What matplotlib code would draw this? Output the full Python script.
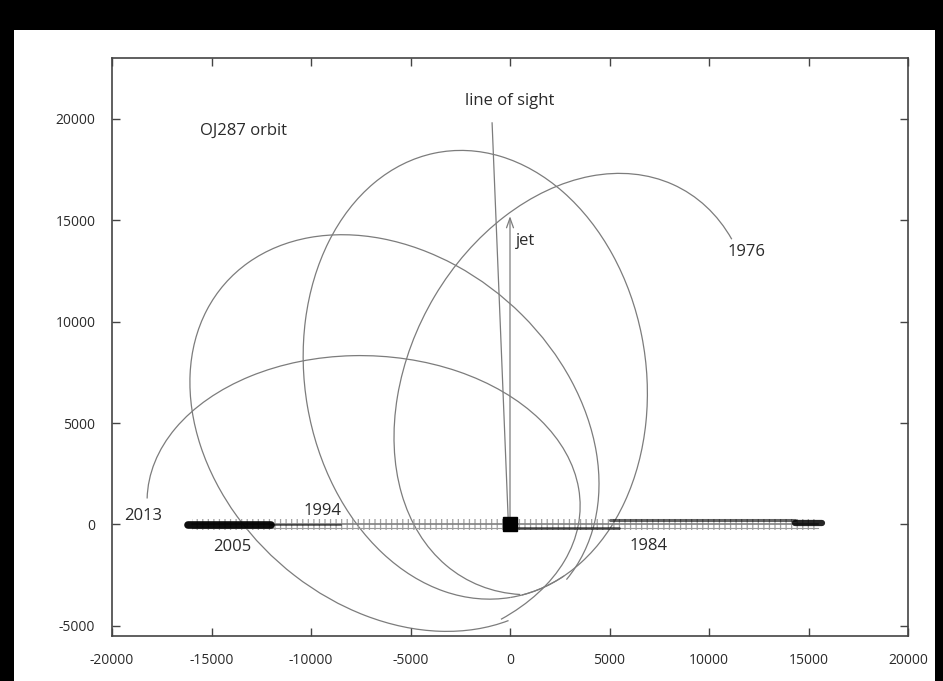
import matplotlib
matplotlib.use("Agg")
import matplotlib.pyplot as plt
from matplotlib.patches import Arc, Rectangle

# elliptical arcs of the secondary's track (data units); the second
# revolution runs slightly past a full turn, so it is split in two pieces
arc_cx = [3216, -1745, -1745, -5806, -7356]
arc_cy = [6923, 7380, 7380, 4507, 1033]
arc_w = [22087, 22241, 22241, 22530, 21763]
arc_h = [16464, 17149, 17149, 17250, 14583]
arc_angle = [-120.6, -80.8, -80.8, 140.5, 178.9]
arc_t1 = [162.6, 3.0, 0.0, 179.6, 141.5]
arc_t2 = [376.0, 360.0, 15.0, 521.3, 359.8]

# edge-on disk
disk_x = [-16000, 15500]
disk_half = 290
dark_x0 = [-16200, -12000, 300, 5000, 14300]
dark_x1 = [-12000, -8500, 5500, 14300, 15700]
dark_y = [-50, -50, -170, 200, 60]
dark_lw = [5.5, 1.4, 2.0, 2.2, 4.5]
dark_alpha = [0.95, 0.55, 0.6, 0.6, 0.85]

# line of sight and jet
los_x = [-900, -80]
los_y = [19800, 0]
jet_top = 15200

year_labels = ["1976", "1984", "1994", "2005", "2013"]
year_x = [10950, 6030, -10400, -14920, -19400]
year_y = [13410, -1080, 640, -1130, 440]

xticks = list(range(-20000, 20001, 5000))
yticks = list(range(-5000, 20001, 5000))

gray = '#7c7c7c'
ink = '#2a2a2a'

plt.rcParams['font.family'] = ['Open Sans', 'DejaVu Sans']
plt.rcParams['axes.unicode_minus'] = False
plt.rcParams['hatch.linewidth'] = 0.9
fig = plt.figure(figsize=(9.43, 6.81), dpi=100, facecolor='black')
fig.patches.append(Rectangle((14/943, 0), 921/943, 1 - 30/681, transform=fig.transFigure,
                             facecolor='white', edgecolor='none', zorder=-5))
ax = fig.add_axes([112/943, 1 - 636/681, 796/943, 578/681])
ax.set_xlim(-20000, 20000)
ax.set_ylim(-5500, 23000)

for i in range(len(arc_cx)):
    ax.add_patch(Arc((arc_cx[i], arc_cy[i]), arc_w[i], arc_h[i], angle=arc_angle[i],
                     theta1=arc_t1[i], theta2=arc_t2[i], color=gray, lw=0.9))

# disk: hatched band of point ticks, a centre line and the denser parts
ax.add_patch(Rectangle((disk_x[0], -disk_half), disk_x[1] - disk_x[0], 2 * disk_half,
                       fill=False, hatch='|||', edgecolor='#a0a0a0', lw=0))
ax.plot(disk_x, [0, 0], color='#808080', lw=1.2)
ax.plot(disk_x, [-170, -170], color='#9a9a9a', lw=0.8)
for x0, x1, y, w, a in zip(dark_x0, dark_x1, dark_y, dark_lw, dark_alpha):
    ax.plot([x0, x1], [y, y], color='black', lw=w, alpha=a, solid_capstyle='round')
ax.plot([0], [0], marker='s', ms=10, color='black', zorder=5)

ax.plot(los_x, los_y, color=gray, lw=0.9)
ax.annotate('', xy=(0, jet_top), xytext=(0, 0),
            arrowprops=dict(arrowstyle='->,head_length=0.7,head_width=0.25', color=gray,
                            lw=0.9, shrinkA=0, shrinkB=0))

ax.text(-15580, 19430, "OJ287 orbit", fontsize=12, color=ink, va='center')
ax.text(0, 20900, "line of sight", fontsize=12, color=ink, ha='center', va='center')
ax.text(300, 14000, "jet", fontsize=12, color=ink, va='center')
for lab, x, y in zip(year_labels, year_x, year_y):
    ax.text(x, y, lab, fontsize=12, color=ink, va='center')

ax.set_xticks(xticks)
ax.set_yticks(yticks)
ax.tick_params(direction='in', top=True, right=True, length=6, width=1, color='#444444',
               labelsize=10, labelcolor=ink, pad=12)
for s in ax.spines.values():
    s.set_color('#444444')
    s.set_linewidth(1.2)

fig.savefig("out.png", dpi=100, facecolor=fig.get_facecolor())
